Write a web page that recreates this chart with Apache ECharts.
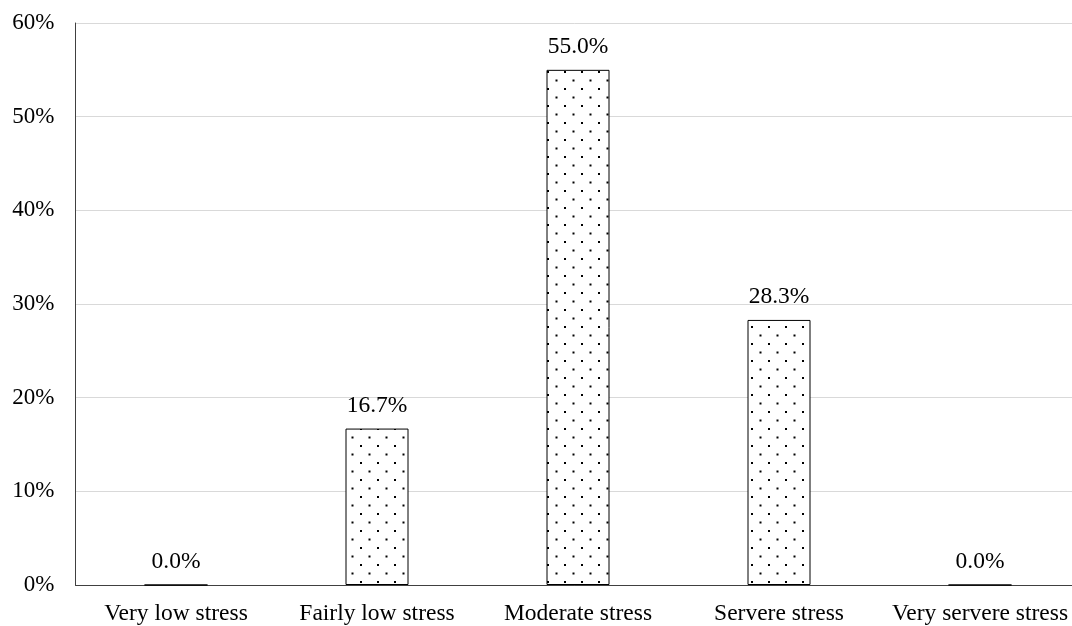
<!DOCTYPE html>
<html><head><meta charset="utf-8">
<script src="https://cdn.jsdelivr.net/npm/echarts@6/dist/echarts.min.js"></script>
<style>html,body{margin:0;padding:0;background:#fff}#c{width:1072px;height:626px}</style>
</head><body><div id="c"></div>
<script>
const categories = ["Very low stress","Fairly low stress","Moderate stress","Servere stress","Very servere stress"];
const values = [0.0, 16.7, 55.0, 28.3, 0.0];
const yTicks = [0,10,20,30,40,50,60];

const pc = document.createElement('canvas');
pc.width = 17; pc.height = 17;
const ctx = pc.getContext('2d');
ctx.fillStyle = '#fff'; ctx.fillRect(0,0,17,17);
ctx.fillStyle = '#000';
ctx.fillRect(3,3,2,2);
ctx.fillRect(11.5,11.5,2,2);

const chart = echarts.init(document.getElementById('c'), null, {renderer:'canvas'});
const font = '"Liberation Serif","Times New Roman",serif';
chart.setOption({
  animation:false,
  grid:{left:75.5, top:23, width:1005, height:562, containLabel:false, outerBoundsMode:'none'},
  xAxis:{type:'category', data:categories,
    axisLine:{show:true,lineStyle:{color:'#404040',width:1}},
    axisTick:{show:false},
    axisLabel:{color:'#000', fontFamily:font, fontSize:23.5, margin:17, interval:0}},
  yAxis:{type:'value', min:0, max:60, interval:10,
    axisLine:{show:true,lineStyle:{color:'#404040',width:1}},
    axisTick:{show:false},
    splitLine:{lineStyle:{color:'#d9d9d9',width:1}},
    axisLabel:{color:'#000', fontFamily:font, fontSize:23, margin:21,
      formatter:v=> yTicks.includes(v) ? v+'%' : ''}},
  series:[{type:'bar', data:values, barWidth:63,
    itemStyle:{color:{image:pc, repeat:'repeat'}, borderColor:'#000', borderWidth:1},
    label:{show:true, position:'top', distance:11, color:'#000', fontFamily:font, fontSize:23.5,
      formatter:p=>p.value.toFixed(1)+'%'}}]
});
</script></body></html>
